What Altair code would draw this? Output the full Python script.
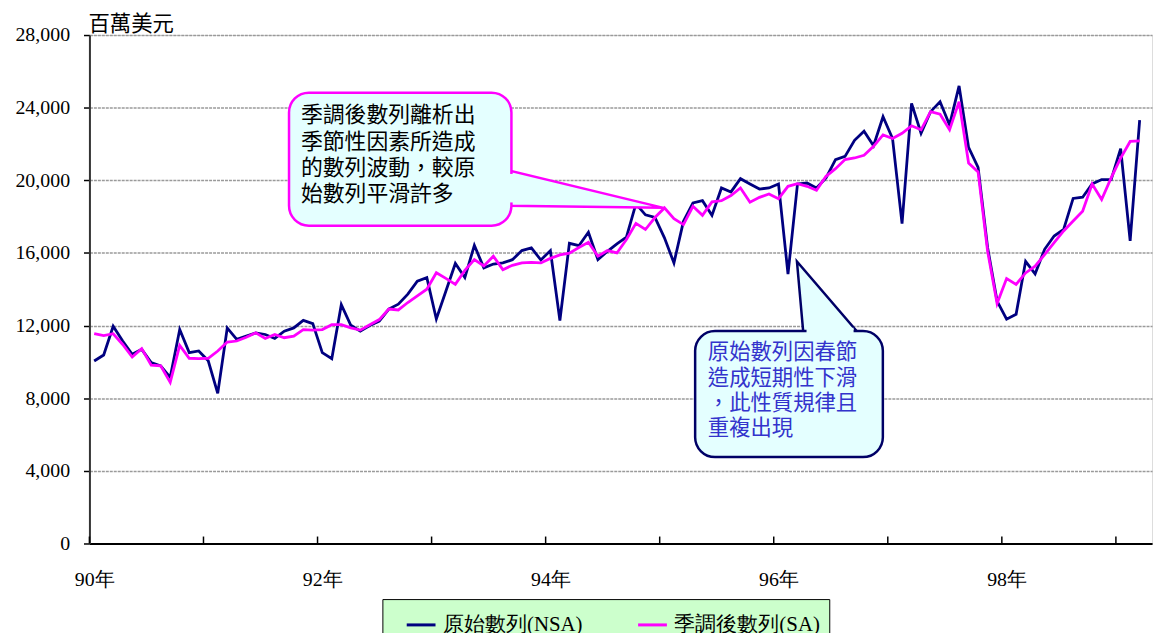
import altair as alt
import pandas as pd

# ---------------- data ----------------
SERIES = ["原始數列(NSA)", "季調後數列(SA)"]
COLORS = ["#000080", "#FF00FF"]

# monthly, 90年1月 ... 99年3月
NSA = [10050, 10380, 11960, 11150, 10420, 10690, 9960, 9780, 9150, 11780, 10510, 10600,
       10060, 8270, 11870, 11240, 11420, 11600, 11510, 11290, 11690, 11870, 12290, 12110,
       10510, 10180, 13150, 12020, 11690, 12000, 12240, 12910, 13180, 13730, 14450, 14640,
       12360, 13890, 15420, 14640, 16420, 15180, 15390, 15450, 15630, 16130, 16280, 15610,
       16130, 12280, 16530, 16400, 17140, 15630, 16090, 16500, 16870, 18700, 18100, 17960,
       16830, 15450, 17740, 18750, 18880, 18070, 19580, 19360, 20090, 19800, 19520, 19580,
       19800, 14840, 19800, 19850, 19580, 20130, 21140, 21320, 22200, 22700, 21900, 23500,
       22300, 17610, 24240, 22590, 23780, 24330, 23050, 25200, 21810, 20710, 16300, 13350,
       12350, 12620, 15540, 14850, 16200, 16930, 17300, 19000, 19070, 19800, 20040, 20040,
       21740, 16660, 23320]
SA = [11560, 11450, 11550, 10960, 10270, 10730, 9820, 9780, 8870, 10910, 10200, 10180,
      10200, 10600, 11090, 11150, 11360, 11600, 11290, 11510, 11330, 11420, 11780, 11750,
      11780, 12050, 12050, 11870, 11750, 12050, 12330, 12910, 12860, 13270, 13640, 14000,
      14910, 14600, 14270, 15040, 15630, 15280, 15820, 15080, 15320, 15450, 15480, 15450,
      15700, 15890, 15990, 16300, 16590, 15820, 16130, 16000, 16740, 17630, 17290, 17950,
      18480, 17890, 17560, 18570, 18070, 18810, 18880, 19160, 19580, 18790, 19060, 19250,
      18990, 19670, 19820, 19670, 19450, 20220, 20640, 21140, 21230, 21380, 21870, 22500,
      22300, 22590, 23000, 22780, 23780, 23640, 22780, 24330, 20950, 20460, 16100, 13210,
      14590, 14270, 14900, 15270, 15910, 16570, 17210, 17760, 18300, 19800, 18940, 20130,
      21220, 22140, 22170]

Y_TICKS = [0, 4000, 8000, 12000, 16000, 20000, 24000, 28000]
FIRST_YEAR = 90
LABEL_YEARS = [90, 92, 94, 96, 98]
ALL_YEARS = list(range(90, 100))
UNIT = "百萬美元"
NOTE1 = ["季調後數列離析出", "季節性因素所造成", "的數列波動，較原", "始數列平滑許多"]
NOTE2 = ["原始數列因春節", "造成短期性下滑", "，此性質規律且", "重複出現"]

# ---------------- styling ----------------
W, H = 1070, 512
X_DOMAIN = [-0.5, 111.3]
CYAN = "#E4FFFF"
SERIF = "Liberation Serif"
CJK = "Noto Sans CJK TC"

rows = []
for name, vals in zip(SERIES, [NSA, SA]):
    for i, v in enumerate(vals):
        rows.append({"t": i, "value": v, "series": name})
df = pd.DataFrame(rows)

xs = alt.Scale(domain=X_DOMAIN, nice=False, zero=False)
ys = alt.Scale(domain=[0, 28000], nice=False)

color = alt.Color(
    "series:N",
    scale=alt.Scale(domain=SERIES, range=COLORS),
    legend=alt.Legend(
        title=None, orient="none", legendX=295, legendY=568,
        columns=2, columnPadding=42, padding=10, symbolOffset=13,
        symbolType="stroke", symbolSize=841, symbolStrokeWidth=3,
        labelOffset=6, labelFontSize=21, labelFont=SERIF, labelColor="black",
        labelFontWeight="normal",
        fillColor="#CCFFCC", strokeColor="black",
    ),
)

base_x = alt.X(
    "t:Q", scale=xs,
    axis=alt.Axis(
        title=None, grid=False, ticks=False, tickSize=0,
        values=[12 * (y - FIRST_YEAR) for y in LABEL_YEARS],
        labelExpr=f"({FIRST_YEAR} + datum.value/12) + '年'",
        labelFont=SERIF, labelFontSize=20, labelColor="black", labelFontWeight="normal",
        labelPadding=26, labelBaseline="top",
        domainColor="black", domainWidth=2,
    ),
)
base_y = alt.Y(
    "value:Q", scale=ys,
    axis=alt.Axis(
        title=None, values=Y_TICKS, format=",.0f",
        labelFont=SERIF, labelFontSize=20, labelColor="black",
        labelFontWeight="normal", labelPadding=14,
        tickColor="black", tickSize=6, tickWidth=1.5,
        domainColor="#333333", domainWidth=2,
        grid=True, gridColor="#9a9a9a", gridWidth=1.6, gridDash=[3, 1],
    ),
)

lines = []
for name in SERIES:
    lines.append(
        alt.Chart(df[df.series == name]).mark_line(strokeWidth=2.8, strokeJoin="miter")
        .encode(x=base_x, y=base_y, color=color)
    )

ticks_df = pd.DataFrame({"t": [12 * (y - FIRST_YEAR) - 0.5 for y in ALL_YEARS]})
year_ticks = alt.Chart(ticks_df).mark_rule(color="black", strokeWidth=1.5).encode(
    x=alt.X("t:Q", scale=xs), y=alt.value(H - 7), y2=alt.value(H)
)

unit_df = pd.DataFrame({"txt": [UNIT]})
unit_text = alt.Chart(unit_df).mark_text(
    font=CJK, fontSize=21.5, align="left", baseline="alphabetic", color="black"
).encode(x=alt.value(-1), y=alt.value(-4), text="txt:N")

# ---------------- callouts (geometry in data units) ----------------
def rect_layer(x0, x1, v0, v1, **kw):
    d = pd.DataFrame({"x0": [x0], "x1": [x1], "v0": [v0], "v1": [v1]})
    return alt.Chart(d).mark_rect(**kw).encode(
        x=alt.X("x0:Q", scale=xs), x2="x1:Q",
        y=alt.Y("v0:Q", scale=ys), y2="v1:Q",
    )

# callout 1 (magenta, pointer to the right)
p1 = pd.DataFrame({"t": [43.5, 59.9], "a": [20563, 18484], "b": [18594, 18484]})
pointer1 = alt.Chart(p1).mark_area(
    fill=CYAN, stroke="#FF00FF", strokeWidth=2.5, opacity=1, strokeJoin="miter"
).encode(x=alt.X("t:Q", scale=xs), y=alt.Y("a:Q", scale=ys), y2="b:Q")
box1 = rect_layer(20.5, 43.9, 17500, 24828, fill=CYAN, stroke="#FF00FF",
                  strokeWidth=2.5, cornerRadius=20)
patch1 = rect_layer(43.5, 44.25, 20350, 18780, fill=CYAN)
t1 = pd.DataFrame({"t": [21.75], "v": [23188], "txt": ["\n".join(NOTE1)]})
text1 = alt.Chart(t1).mark_text(
    font=CJK, fontSize=22, align="left", baseline="alphabetic",
    lineBreak="\n", lineHeight=26.3, color="black"
).encode(x=alt.X("t:Q", scale=xs), y=alt.Y("v:Q", scale=ys), text="txt:N")

# callout 2 (navy, pointer upward)
p2 = pd.DataFrame({"v": [11375, 15531], "a": [74.65, 73.94], "b": [80.76, 73.94]})
pointer2 = alt.Chart(p2).mark_area(
    orient="horizontal", fill=CYAN, stroke="#000066", strokeWidth=2.5,
    opacity=1, strokeJoin="miter"
).encode(y=alt.Y("v:Q", scale=ys), x=alt.X("a:Q", scale=xs), x2="b:Q")
box2 = rect_layer(63.23, 82.98, 4758, 11703, fill=CYAN, stroke="#000066",
                  strokeWidth=2.5, cornerRadius=20)
patch2 = rect_layer(74.95, 79.9, 11880, 11450, fill=CYAN)
t2 = pd.DataFrame({"t": [64.56], "v": [10150], "txt": ["\n".join(NOTE2)]})
text2 = alt.Chart(t2).mark_text(
    font=CJK, fontSize=21.5, align="left", baseline="alphabetic",
    lineBreak="\n", lineHeight=25.6, color="#3333CC"
).encode(x=alt.X("t:Q", scale=xs), y=alt.Y("v:Q", scale=ys), text="txt:N")

chart = alt.layer(
    *lines, year_ticks, unit_text,
    pointer1, box1, patch1, text1,
    pointer2, box2, patch2, text2,
).properties(
    width=W, height=H,
    autosize=alt.AutoSizeParams(type="none"),
    padding={"left": 82, "top": 25, "right": 2, "bottom": 100},
).configure_view(strokeWidth=0).configure(background="white")

chart.save("out.html", embed_options={"renderer": "svg", "actions": False})
